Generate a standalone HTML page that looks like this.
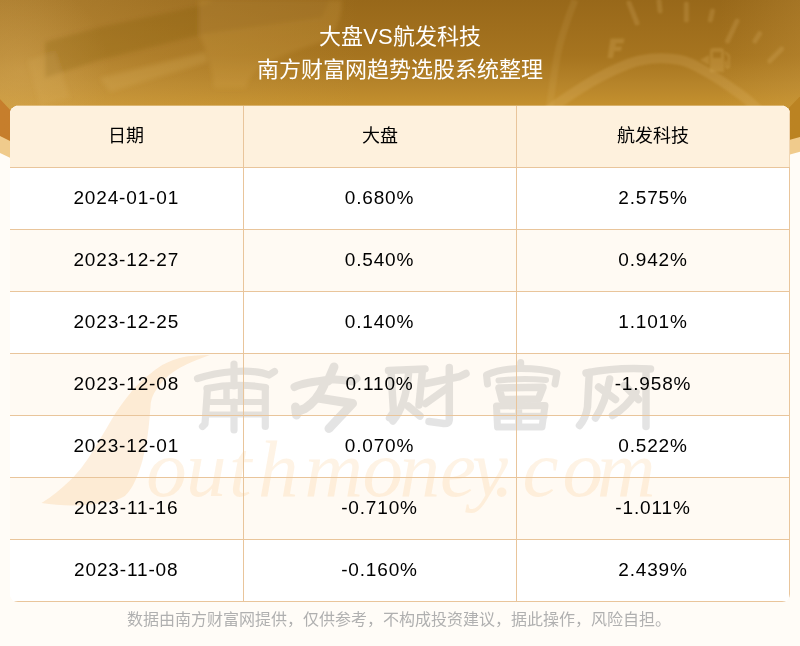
<!DOCTYPE html>
<html lang="zh-CN">
<head>
<meta charset="utf-8">
<title>大盘VS航发科技</title>
<style>
html,body{margin:0;padding:0;}
body{width:800px;height:646px;position:relative;overflow:hidden;background:#fffcf7;font-family:"Liberation Sans",sans-serif;color:#000;}
#banner{position:absolute;left:0;top:0;width:800px;height:200px;z-index:0;}
#titles{will-change:transform;position:absolute;left:0;top:20px;width:800px;text-align:center;color:#fff;font-size:22px;line-height:33px;z-index:2;}
#titles div{height:33px;}
#tbl{position:absolute;left:10px;top:106px;width:780px;height:496px;border-radius:8px;overflow:hidden;z-index:1;background:#fff;}
#stripes{position:absolute;left:0;top:0;width:780px;height:496px;background:
 linear-gradient(#fef1dd,#fef1dd) 0 0/780px 62px no-repeat,
 linear-gradient(#fffaf3,#fffaf3) 0 124px/780px 62px no-repeat,
 linear-gradient(#fffaf3,#fffaf3) 0 248px/780px 62px no-repeat,
 linear-gradient(#fffaf3,#fffaf3) 0 372px/780px 62px no-repeat,#fff;}
#topaa{position:absolute;left:16px;top:105px;width:768px;height:1px;background:rgba(254,241,221,0.35);z-index:1;}
#rb{position:absolute;right:0;top:0;width:1px;height:496px;background:linear-gradient(#f0d6b3 0,#f0d6b3 61px,#e9c59b 61px);z-index:3;}
#wm{position:absolute;left:-10px;top:-106px;width:800px;height:646px;}
table{position:relative;will-change:transform;border-collapse:collapse;width:780px;table-layout:fixed;}
th,td{line-height:24px;height:61px;padding:0;text-align:center;font-weight:normal;font-size:18px;border-bottom:1px solid #e9c59b;border-right:1px solid #e9c59b;box-sizing:content-box;}
th{height:60px;padding-bottom:1px;}
td{font-size:19px;letter-spacing:0.85px;height:59px;padding-bottom:2px;}
col.c1{width:233px;}col.c2{width:273px;}col.c3{width:274px;}
#foot{will-change:transform;position:absolute;left:-1px;top:609px;width:800px;text-align:center;font-size:16px;line-height:22px;color:#b0b0b0;z-index:2;}
</style>
</head>
<body>
<svg id="banner" viewBox="0 0 800 200">
  <defs>
    <linearGradient id="g1" gradientUnits="userSpaceOnUse" x1="0" y1="0" x2="0" y2="112">
      <stop offset="0" stop-color="#98681a"/>
      <stop offset="0.5" stop-color="#a6741f"/>
      <stop offset="0.75" stop-color="#b6842a"/>
      <stop offset="0.94" stop-color="#c4902e"/>
      <stop offset="1" stop-color="#c8942f"/>
    </linearGradient>
    <linearGradient id="g2" gradientUnits="userSpaceOnUse" x1="0" y1="0" x2="800" y2="0">
      <stop offset="0" stop-color="#c67e2c"/>
      <stop offset="1" stop-color="#bb8322"/>
    </linearGradient>
    <linearGradient id="g3" gradientUnits="userSpaceOnUse" x1="0" y1="0" x2="360" y2="0">
      <stop offset="0" stop-color="#e0b566" stop-opacity="0.3"/>
      <stop offset="0.45" stop-color="#e0b566" stop-opacity="0.15"/>
      <stop offset="1" stop-color="#e0b566" stop-opacity="0"/>
    </linearGradient>
    <linearGradient id="g4" gradientUnits="userSpaceOnUse" x1="720" y1="0" x2="800" y2="0">
      <stop offset="0" stop-color="#d8a850" stop-opacity="0"/>
      <stop offset="1" stop-color="#d8a850" stop-opacity="0.2"/>
    </linearGradient>
    <radialGradient id="r1" gradientUnits="userSpaceOnUse" cx="20" cy="70" r="90">
      <stop offset="0" stop-color="#e0b566" stop-opacity="0.3"/>
      <stop offset="1" stop-color="#e0b566" stop-opacity="0"/>
    </radialGradient>
    <filter id="b2" x="-20%" y="-20%" width="140%" height="140%"><feGaussianBlur stdDeviation="2"/></filter>
    <filter id="b1" x="-20%" y="-20%" width="140%" height="140%"><feGaussianBlur stdDeviation="0.8"/></filter>
    <clipPath id="cp"><path d="M0,0 H800 V96.2 L788.2,108.5 Q760,135 700,150 H100 Q40,135 10.3,110.1 L0,98.9 Z"/></clipPath>
  </defs>
  <path d="M0,0 H800 V151.8 L790,154.6 Q700,185 400,190 Q100,185 10,157.7 L0,153 Z" fill="#f0cb8c"/>
  <path d="M0,0 H800 V137.1 L790,139.8 Q700,170 400,175 Q100,170 10,141 L0,136 Z" fill="url(#g2)"/>
  <g clip-path="url(#cp)">
    <rect x="0" y="0" width="800" height="200" fill="url(#g1)"/>
    <rect x="0" y="0" width="800" height="200" fill="url(#g3)"/>
    <rect x="0" y="0" width="800" height="200" fill="url(#g4)"/>
    <rect x="0" y="0" width="800" height="200" fill="url(#r1)"/>
    <g filter="url(#b2)">
      <path d="M45,42 L100,27 L199,6 L215,0 L330,0 L322,18 L204,34 L100,60 L45,78 Z" fill="#7d5210" fill-opacity="0.22"/>
      <path d="M199,0 L342,0 Q342,30 322,42 Q280,55 262,66 Q248,76 246,88 L214,88 Q212,62 199,34 Z" fill="#e2b45a" fill-opacity="0.17"/>
      <path d="M100,78 L205,52 L208,62 L110,92 Z" fill="#e0b866" fill-opacity="0.22"/>
      <path d="M28,60 L55,52 L70,98 L40,105 Z" fill="#e0b866" fill-opacity="0.15"/>
    </g>
    <g filter="url(#b1)" fill="none" stroke="#e6bf72" stroke-opacity="0.2">
      <path d="M520.0,140.0 C523.3,136.3 533.3,124.3 540.0,118.0 C546.7,111.7 550.0,108.8 560.0,102.0 C570.0,95.2 586.7,83.9 600.0,77.0 C613.3,70.1 626.7,63.3 640.0,60.5 C653.3,57.7 668.3,57.8 680.0,60.0 C691.7,62.2 700.0,68.3 710.0,74.0 C720.0,79.7 733.0,89.0 740.0,94.0 C747.0,99.0 747.8,100.2 752.0,104.0 C756.2,107.8 761.0,112.3 765.0,117.0 C769.0,121.7 774.2,129.5 776.0,132.0" stroke-width="10"/>
      <path d="M575,0 Q565,25 560,44 T549,112" stroke-width="7" stroke-opacity="0.11"/>
      <g stroke-width="5" stroke-linecap="round" stroke-opacity="0.2">
        <path d="M629,3 L637,23"/><path d="M659,1 L660,11"/><path d="M686.4,4 L686.4,20"/><path d="M712.4,11 L710.4,20"/>
        <path d="M737,21 L727.6,41"/><path d="M759.6,33.6 L755,41"/><path d="M781.6,49 L769.6,61"/>
      </g>
    </g>
    <g filter="url(#b1)" fill="#e6bf72" fill-opacity="0.22">
      <path d="M610.5,38.5 L624.5,38.5 L623.5,43.5 L616,43.5 L615.3,46.5 L622,46.5 L621,51 L614.3,51 L613,58 L607.5,58 Z"/>
      <path d="M700,60 L709,55 L709,65 Z"/>
      <path d="M710,51 Q710,48 713,48 L721,48 Q724,48 724,51 L724,72 L710,72 Z M713,52 L713,58 L721,58 L721,52 Z" fill-rule="evenodd"/>
      <path d="M725,51 L730,55 L730,66 Q730,69 727.5,69 Q725,69 725,66 L725,61 L727,61 L727,66 L728,66 L728,56 L725,54 Z"/>
    </g>
  </g>
</svg>

<div id="titles">
  <div>大盘VS航发科技</div>
  <div>南方财富网趋势选股系统整理</div>
</div>

<div id="topaa"></div>
<div id="tbl">
<div id="stripes"></div>
<div id="rb"></div>
<svg id="wm" viewBox="0 0 800 646">
  <path id="swoosh" fill="#f5a23c" fill-opacity="0.17" d="M209.7,355.1 C199,355 189,356 179.5,357.9 C169,361 161,365 153.6,370.9 C145,378 136,385 129.6,393.9 C123,402 116.5,411 111.5,419.8 C105,431 99,441 92.5,451.4 C86,462 79.5,471 70.5,480.1 C61,489 52,497 41.5,503.1 C57,505.5 73,506 87.5,504.8 C102,503.5 115,502 124.9,496 C130,491 133,486 135.5,480.1 C139,472 141,466 142.6,460 C145,450 147,441 148.2,431.3 C149.5,421 150,412 150.8,402.5 C152,396 155,391 159.4,385.3 C165,378 171,373 179.5,368 C189,363 199,359 209.7,355.1 Z"/>
  <g id="cjk" opacity="0.195" fill="none" stroke="#7a7a7a" stroke-linecap="round" stroke-linejoin="round">
    <g stroke-width="7.2">
      <path d="M197.5,378.5 C205,376 215,373 234,371.5 C250,370.5 262,372 269,375 L274.5,371.5"/>
      <path d="M234,364 V386"/>
      <path d="M207,388.5 Q235,382.5 265.5,387.5"/>
      <path d="M207.5,388.5 L205,424 L202.5,426.5"/>
      <path d="M265.3,388 V426.5"/>
      <path d="M226.5,388 V400 M241,388 V400" stroke-width="6.5"/>
      <path d="M206.5,402 H265 M205.5,414.5 H265" stroke-width="6"/>
      <path d="M234,402 V430"/>
    </g>
    <g stroke-width="9">
      <path d="M334,367 L328,381"/>
      <path d="M294.5,387 C300,384 313,381.5 332,379.5 C342,379 349,381 352,381.5 L356.5,378.5" stroke-width="8"/>
      <path d="M324,385 C320,395 312,404 305,408.5 L296,412 M295.5,407 L296.5,415"/>
      <path d="M318,398 L352.5,403.5 L329,428.5"/>
    </g>
    <g stroke-width="7.5">
      <path d="M388.5,370.5 L425,369"/>
      <path d="M391,371 L393.5,412 L389.5,418"/>
      <path d="M422.5,370 L419,405"/>
      <path d="M408.5,374 C407,392 402,410 393,421"/>
      <path d="M408,406 L420,416"/>
      <path d="M426,383.5 L459,376.8 L466,373.5"/>
      <path d="M449.3,367.5 V420 Q449,424 444,423.5 L429,421.5"/>
      <path d="M448.5,387 L425.5,403.5"/>
    </g>
    <g stroke-width="7">
      <path d="M520.7,362.5 V368"/>
      <path d="M487.5,384 L486.5,375 C495,371 508,368.5 520.7,368.5 C535,368.5 548,370 557,373 L555,384"/>
      <path d="M498.5,380.5 Q522,378 546,380" stroke-width="6"/>
      <path d="M499,388 L543,387.3 L538.5,399 L502,399.5 Z" stroke-width="7.5"/>
      <path d="M496.5,406 L545,405.5 L542,427 L497.5,427 Z M497,416.3 H544 M518.7,406 V427"/>
    </g>
    <g stroke-width="7.5">
      <path d="M586,373 Q617,367 650.5,369"/>
      <path d="M589.3,372.5 L587.5,407 Q586,418 579.5,425.5"/>
      <path d="M646,369.5 V426.5"/>
      <path d="M609.7,379 C607,395 602,408 595.5,418"/>
      <path d="M598.6,387 L615.5,399.5"/>
      <path d="M636,392 C630,402 622,410 612.5,415.5"/>
      <path d="M624.5,385.5 L638.5,399.5"/>
    </g>
  </g>
  <text x="146.3 186 228.9 258.1 304.6 362.6 399.6 440 472 493.6 522.5 562.6 597.1" y="496" font-family="Liberation Serif, serif" font-style="italic" font-size="81" fill="#f5a23c" fill-opacity="0.135">outhmoney.com</text>
</svg>
<table>
  <colgroup><col class="c1"><col class="c2"><col class="c3"></colgroup>
  <tr><th>日期</th><th>大盘</th><th>航发科技</th></tr>
  <tr><td>2024-01-01</td><td>0.680%</td><td>2.575%</td></tr>
  <tr><td>2023-12-27</td><td>0.540%</td><td>0.942%</td></tr>
  <tr><td>2023-12-25</td><td>0.140%</td><td>1.101%</td></tr>
  <tr><td>2023-12-08</td><td>0.110%</td><td>-1.958%</td></tr>
  <tr><td>2023-12-01</td><td>0.070%</td><td>0.522%</td></tr>
  <tr><td>2023-11-16</td><td>-0.710%</td><td>-1.011%</td></tr>
  <tr><td>2023-11-08</td><td>-0.160%</td><td>2.439%</td></tr>
</table>
</div>

<div id="foot">数据由南方财富网提供，仅供参考，不构成投资建议，据此操作，风险自担。</div>
</body>
</html>
